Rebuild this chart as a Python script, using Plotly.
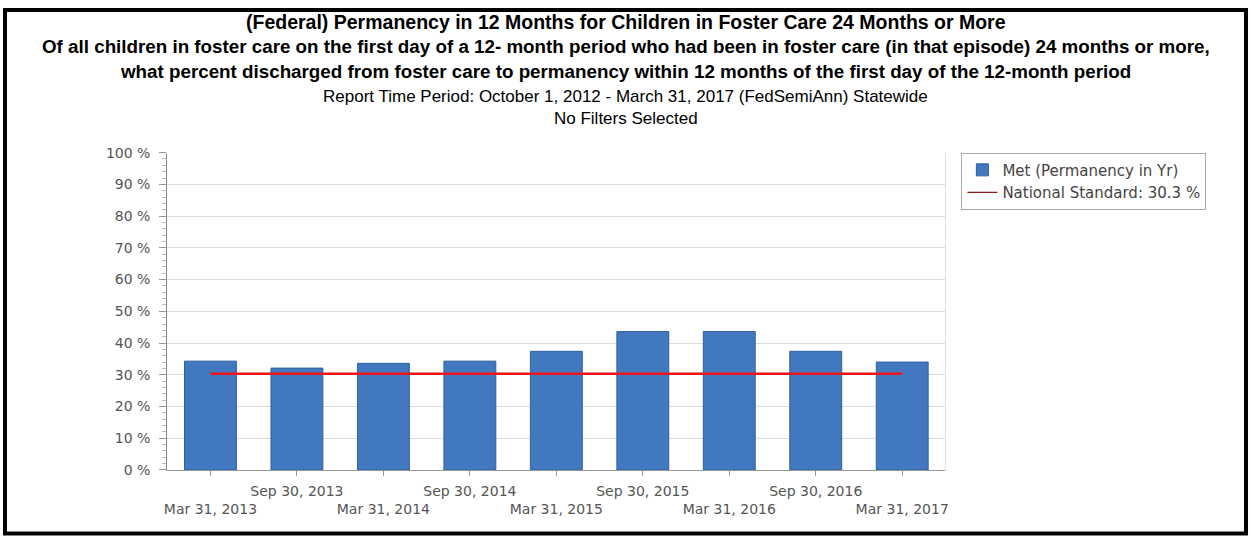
import plotly.graph_objects as go

W, H = 1251, 544

# ---- data ----
periods = ["Mar 31, 2013", "Sep 30, 2013", "Mar 31, 2014", "Sep 30, 2014", "Mar 31, 2015",
           "Sep 30, 2015", "Mar 31, 2016", "Sep 30, 2016", "Mar 31, 2017"]
met_pct = [34.3, 32.1, 33.6, 34.3, 37.4, 43.6, 43.6, 37.4, 34.0]
national_standard = 30.3
y_ticks = [0, 10, 20, 30, 40, 50, 60, 70, 80, 90, 100]

title_lines = [
    "(Federal) Permanency in 12 Months for Children in Foster Care 24 Months or More",
    "Of all children in foster care on the first day of a 12- month period who had been in foster care (in that episode) 24 months or more,",
    "what percent discharged from foster care to permanency within 12 months of the first day of the 12-month period",
    "Report Time Period: October 1, 2012 - March 31, 2017 (FedSemiAnn) Statewide",
    "No Filters Selected",
]

# staggered tick labels: Sep on upper row, Mar on lower row
tick_text = [("<br>" + p) if p.startswith("Mar") else (p + "<br> ") for p in periods]

# ---- layout geometry (pixels) ----
px_left, px_right = 165, 947
px_top, px_bottom = 149, 476
xdom = [px_left / W, px_right / W]
ydom = [1 - px_bottom / H, 1 - px_top / H]

AXFONT = dict(family="DejaVu Sans, Verdana, sans-serif", size=14, color="#555555")

fig = go.Figure()
fig.add_trace(go.Bar(
    x=periods, y=met_pct, name="Met (Permanency in Yr)",
    marker=dict(color="#4278C0", line=dict(color="#2F5F9F", width=1)),
    width=0.6,
))
fig.add_trace(go.Scatter(
    x=periods, y=[national_standard] * len(periods), mode="lines",
    line=dict(color="#F0141B", width=2.5), showlegend=False, hoverinfo="skip",
))
fig.add_trace(go.Scatter(
    x=[periods[0]], y=[None], mode="lines",
    name=f"National Standard: {national_standard} %",
    line=dict(color="#8B1A1A", width=1.2),
))

fig.update_layout(
    width=W, height=H, autosize=False,
    margin=dict(l=0, r=0, t=0, b=0),
    paper_bgcolor="white", plot_bgcolor="white",
    showlegend=True,
    legend=dict(
        x=963 / W, y=1 - px_top / H, xanchor="left", yanchor="top",
        bordercolor="#AAAAAA", borderwidth=1, bgcolor="white",
        font=dict(family="DejaVu Sans, Verdana, sans-serif", size=15, color="#444444"),
        tracegroupgap=0, itemwidth=30,
    ),
    xaxis=dict(
        domain=xdom, type="category", range=[-0.5, len(periods) - 0.5],
        tickmode="array", tickvals=periods, ticktext=tick_text, tickangle=0,
        ticks="outside", ticklen=5, tickcolor="#999999",
        ticklabelstandoff=3,
        showline=True, linecolor="#999999", linewidth=1,
        showgrid=False, zeroline=False, tickfont=AXFONT,
    ),
    yaxis=dict(
        domain=ydom, range=[0, 100],
        tickmode="array", tickvals=y_ticks, ticktext=[f"{v} %" for v in y_ticks],
        ticks="outside", ticklen=7, tickcolor="#999999",
        ticklabelstandoff=6,
        minor=dict(dtick=2, ticks="outside", ticklen=4, tickcolor="#BBBBBB", showgrid=False),
        showline=True, linecolor="#888888", linewidth=1,
        showgrid=True, gridcolor="#DCDCDC", gridwidth=1,
        zeroline=False, tickfont=AXFONT,
    ),
    bargap=0.4,
)

# right edge of plot area
fig.add_shape(type="line", xref="paper", yref="paper",
              x0=xdom[1], x1=xdom[1], y0=ydom[0], y1=ydom[1],
              line=dict(color="#DDDDDD", width=1))

# outer black frame
fig.add_shape(type="rect", xref="paper", yref="paper",
              x0=2 / W, x1=1 - 2 / W, y0=2.5 / H, y1=1 - 2 / H,
              line=dict(color="black", width=4))

# title block
ys = [14, 40, 65, 91, 114]
fonts = [
    dict(family="Liberation Sans, Arial, sans-serif", size=19.5, color="black"),
    dict(family="Liberation Sans, Arial, sans-serif", size=18.8, color="black"),
    dict(family="Liberation Sans, Arial, sans-serif", size=18.8, color="black"),
    dict(family="Liberation Sans, Arial, sans-serif", size=17, color="black"),
    dict(family="Liberation Sans, Arial, sans-serif", size=17, color="black"),
]
for i, (txt, y, f) in enumerate(zip(title_lines, ys, fonts)):
    t = f"<b>{txt}</b>" if i < 3 else txt
    fig.add_annotation(text=t, x=0.5, y=1 - y / H, xref="paper", yref="paper",
                       xanchor="center", yanchor="middle", showarrow=False, font=f)

fig.write_html("out.html", config={"responsive": False})
